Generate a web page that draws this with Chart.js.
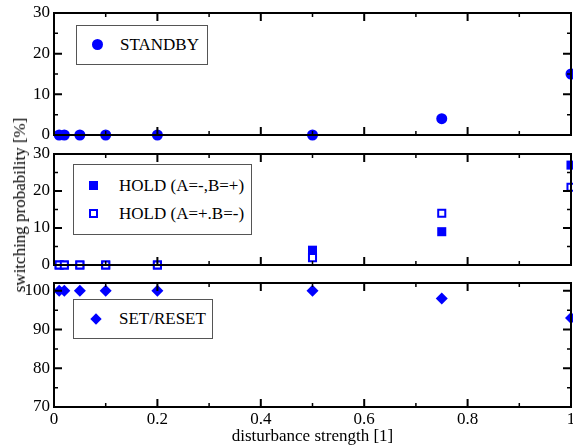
<!DOCTYPE html>
<html>
<head>
<meta charset="utf-8">
<script src="https://cdn.jsdelivr.net/npm/chart.js@4/dist/chart.umd.min.js"></script>
<style>
  html, body { margin: 0; padding: 0; background: #fff; }
  #wrap { position: relative; width: 573px; height: 448px; overflow: hidden; font-family: "Liberation Serif", "DejaVu Serif", serif; }
  .panel { position: absolute; left: 0; width: 573px; }
  .legend { position: absolute; border: 1px solid #555; background: #fff; color: #000; font-size: 17px; }
  .row { position: absolute; left: 0; white-space: nowrap; line-height: 18px; }
  .row span.txt { position: absolute; left: 45px; top: 0; }
  .mk { position: absolute; box-sizing: border-box; }
  .circle { width: 11px; height: 11px; border-radius: 50%; background: #0000ff; }
  .sq { width: 9px; height: 9px; background: #0000ff; }
  .osq { width: 9px; height: 9px; border: 2px solid #0000ff; background: #fff; }
  .dia { width: 8px; height: 8px; background: #0000ff; transform: rotate(45deg); }
  #ytitle { position: absolute; left: 20px; top: 205px; transform: translate(-50%, -50%) rotate(-90deg); font-size: 17px; white-space: nowrap; color: #000; }
</style>
</head>
<body>
<div id="wrap">
  <div class="panel" style="top:0;height:145px"><canvas id="c-standby"></canvas></div>
  <div class="panel" style="top:145px;height:130px"><canvas id="c-hold"></canvas></div>
  <div class="panel" style="top:275px;height:173px"><canvas id="c-set"></canvas></div>

  <div class="legend" style="left:76px;top:25px;width:130px;height:38px">
    <div class="row" style="top:10px;width:130px">
      <div class="mk circle" style="left:15px;top:3px"></div><span class="txt" style="left:43px">STANDBY</span>
    </div>
  </div>
  <div class="legend" style="left:73px;top:164px;width:177px;height:69px">
    <div class="row" style="top:12px;width:177px">
      <div class="mk sq" style="left:15px;top:4px"></div><span class="txt">HOLD (A=-,B=+)</span>
    </div>
    <div class="row" style="top:40px;width:177px">
      <div class="mk osq" style="left:15px;top:4px"></div><span class="txt">HOLD (A=+.B=-)</span>
    </div>
  </div>
  <div class="legend" style="left:73px;top:299px;width:138px;height:38px">
    <div class="row" style="top:10px;width:138px">
      <div class="mk dia" style="left:18px;top:5px"></div><span class="txt">SET/RESET</span>
    </div>
  </div>

  <div id="ytitle">switching probability [%]</div>
</div>

<script>
const strength = [0.01, 0.02, 0.05, 0.1, 0.2, 0.5, 0.75, 1];
const standby = [0, 0, 0, 0, 0, 0, 4, 15];
const holdAminusBplus = [0, 0, 0, 0, 0, 4, 9, 27];
const holdAplusBminus = [0, 0, 0, 0, 0, 2, 14, 21];
const setReset = [100, 100, 100, 100, 100, 100, 98, 93];

const FONT = "'Liberation Serif', 'DejaVu Serif', serif";
const BLUE = "#0000ff";

function toPoints(values) {
  return strength.map((x, i) => ({ x: x, y: values[i] }));
}

// frame + inward ticks on all four sides
const frameTicks = {
  id: "frameTicks",
  afterDraw(chart) {
    const ctx = chart.ctx;
    const a = chart.chartArea;
    const xs = chart.scales.x;
    const ys = chart.scales.y;
    ctx.save();
    ctx.strokeStyle = "#000";
    ctx.lineCap = "butt";

    function marks(scale, horizontal) {
      const vals = scale.ticks.map((t) => t.value);
      const minor = [];
      for (let i = 0; i < vals.length - 1; i++) minor.push((vals[i] + vals[i + 1]) / 2);
      const draw = (v, len, w) => {
        const p = scale.getPixelForValue(v);
        ctx.lineWidth = w;
        ctx.beginPath();
        if (horizontal) {
          ctx.moveTo(p, a.bottom); ctx.lineTo(p, a.bottom - len);
          ctx.moveTo(p, a.top); ctx.lineTo(p, a.top + len);
        } else {
          ctx.moveTo(a.left, p); ctx.lineTo(a.left + len, p);
          ctx.moveTo(a.right, p); ctx.lineTo(a.right - len, p);
        }
        ctx.stroke();
      };
      vals.forEach((v) => draw(v, 8, 2));
      minor.forEach((v) => draw(v, 4, 1.5));
    }
    marks(xs, true);
    marks(ys, false);

    ctx.lineWidth = 2;
    ctx.strokeRect(a.left, a.top, a.right - a.left, a.bottom - a.top);
    ctx.restore();
  },
};

function makeOptions(yMin, yMax, pad, showX) {
  return {
    responsive: false,
    animation: false,
    maintainAspectRatio: false,
    layout: { autoPadding: false, padding: { left: 0, right: 2, top: pad.top, bottom: pad.bottom } },
    plugins: { legend: { display: false }, tooltip: { enabled: false } },
    scales: {
      x: {
        type: "linear",
        min: 0,
        max: 1,
        grid: { display: false, drawTicks: false },
        border: { display: false },
        ticks: {
          display: showX,
          stepSize: 0.2,
          padding: 2,
          color: "#000",
          font: { family: FONT, size: 17 },
          callback: (v) => String(Math.round(v * 10) / 10),
        },
        title: {
          display: showX,
          text: "disturbance strength [1]",
          color: "#000",
          font: { family: FONT, size: 17 },
          padding: { top: 0, bottom: 1 },
        },
        afterFit(s) {
          s.height = showX ? 41 : 0;
          s.paddingLeft = 0;
          s.paddingRight = 0;
        },
      },
      y: {
        min: yMin,
        max: yMax,
        grid: { display: false, drawTicks: false },
        border: { display: false },
        ticks: {
          stepSize: 10,
          includeBounds: false,
          padding: 4,
          color: "#000",
          font: { family: FONT, size: 17 },
        },
        afterFit(s) {
          s.width = 54;
          s.paddingTop = 0;
          s.paddingBottom = 0;
        },
      },
    },
  };
}

function makeChart(id, height, datasets, yMin, yMax, pad, showX) {
  const canvas = document.getElementById(id);
  canvas.width = 573;
  canvas.height = height;
  canvas.style.width = "573px";
  canvas.style.height = height + "px";
  return new Chart(canvas, {
    type: "scatter",
    data: { datasets: datasets },
    options: makeOptions(yMin, yMax, pad, showX),
    plugins: [frameTicks],
  });
}

makeChart("c-standby", 145, [
  {
    label: "STANDBY",
    data: toPoints(standby),
    pointStyle: "circle",
    pointRadius: 5.5,
    pointBackgroundColor: BLUE,
    pointBorderWidth: 0,
    clip: false,
  },
], 0, 30, { top: 13, bottom: 10 }, false);

makeChart("c-hold", 130, [
  {
    label: "HOLD (A=+.B=-)",
    data: toPoints(holdAplusBminus),
    pointStyle: "rect",
    pointRadius: 5,
    pointBackgroundColor: "#fff",
    pointBorderColor: BLUE,
    pointBorderWidth: 2,
    clip: false,
  },
  {
    label: "HOLD (A=-,B=+)",
    data: toPoints(holdAminusBplus),
    pointStyle: "rect",
    pointRadius: 6.4,
    pointBackgroundColor: BLUE,
    pointBorderWidth: 0,
    clip: false,
  },
], 0, 30, { top: 9, bottom: 10 }, false);

makeChart("c-set", 173, [
  {
    label: "SET/RESET",
    data: toPoints(setReset),
    pointStyle: "rectRot",
    pointRadius: 6,
    pointBackgroundColor: BLUE,
    pointBorderWidth: 0,
    clip: false,
  },
], 70, 102, { top: 8, bottom: 0 }, true);
</script>
</body>
</html>
